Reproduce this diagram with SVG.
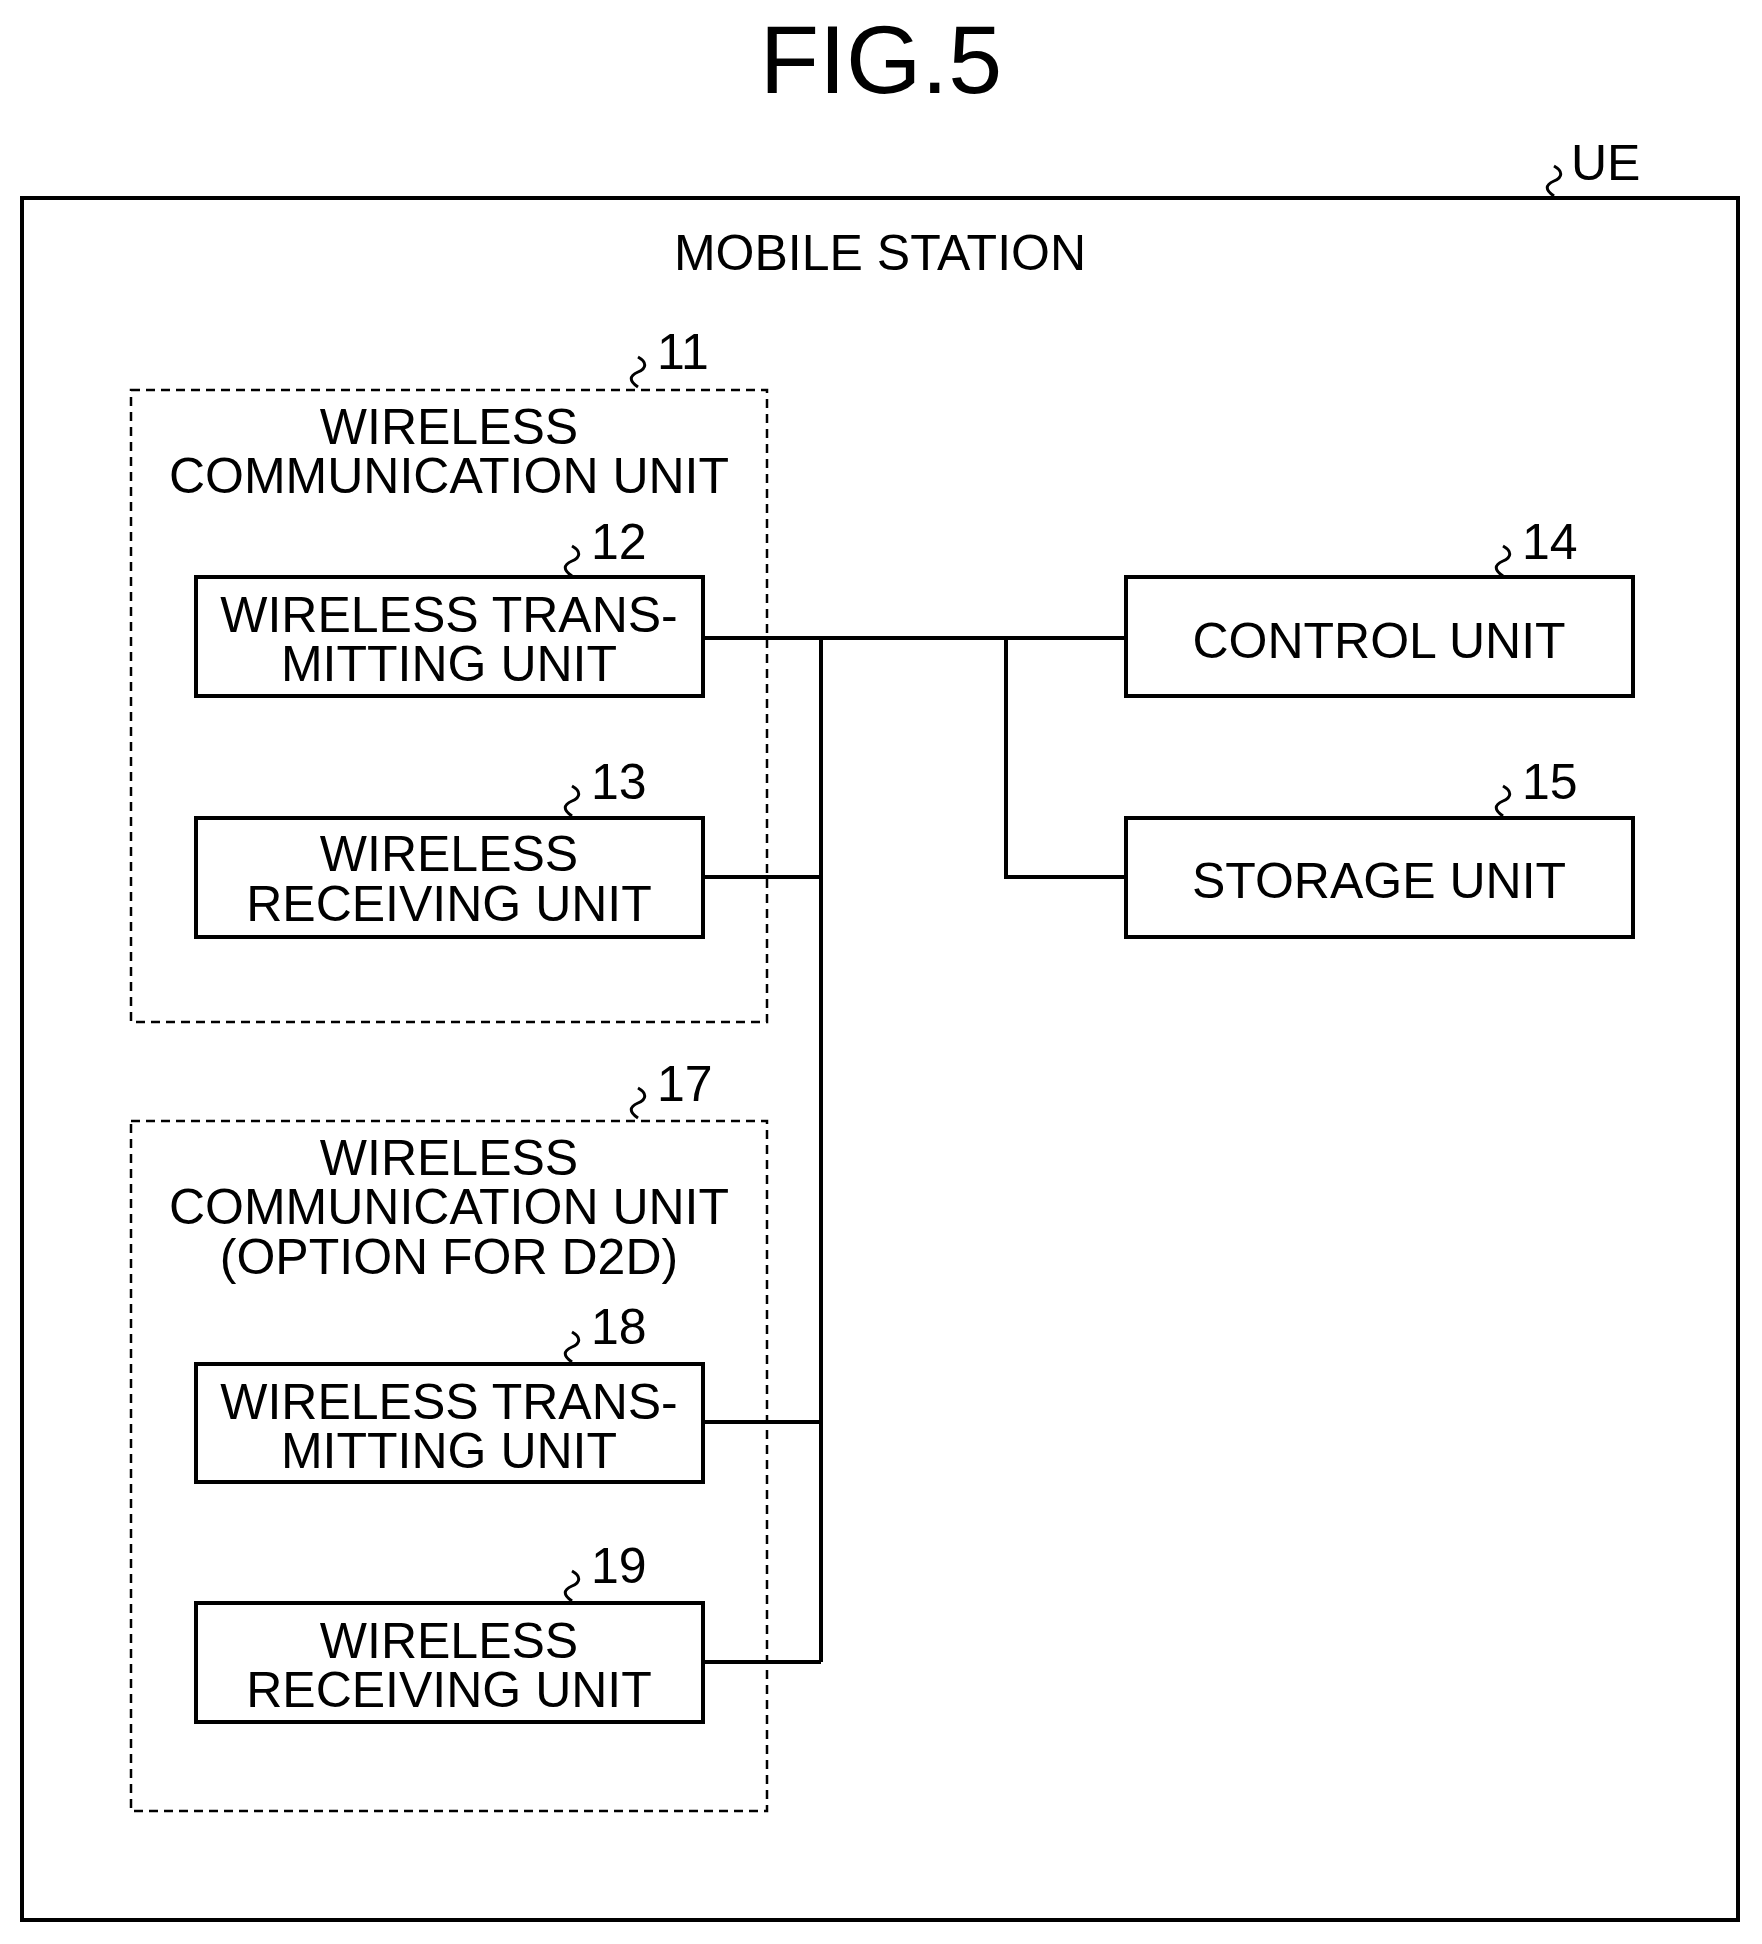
<svg xmlns="http://www.w3.org/2000/svg" xmlns:xlink="http://www.w3.org/1999/xlink" width="1762" height="1944" viewBox="0 0 1762 1944">
<style>
text{font-family:"Liberation Sans",Arial,sans-serif;font-size:50px;fill:#000}
.c{text-anchor:middle}
.box{fill:#fff;stroke:#000;stroke-width:4}
.dash{fill:none;stroke:#000;stroke-width:2.5;stroke-dasharray:9,6}
.ln{fill:none;stroke:#000;stroke-width:4}
.sq{fill:none;stroke:#000;stroke-width:3}
</style>
<defs><path id="sq" class="sq" d="M0,0 c-9,-6 -9,-11 0,-15 c9,-4 9,-10 0,-15"/></defs>
<rect width="1762" height="1944" fill="#fff"/>
<text class="c" x="881" y="93" style="font-size:97px">FIG.5</text>
<g id="ue">
<rect x="22" y="198" width="1716" height="1722" class="box"/>
<use xlink:href="#sq" x="1554" y="196"/>
<text x="1571" y="180">UE</text>
<text class="c" x="880" y="270">MOBILE STATION</text>
</g>
<g id="conn">
<path class="ln" d="M703,638 H1126 M821,638 V1662 M703,877 H821 M703,1422 H821 M703,1662 H821 M1006,638 V877 H1126"/>
</g>
<g id="n11">
<rect x="131" y="390" width="636" height="632" class="dash"/>
<use xlink:href="#sq" x="638" y="387"/>
<text x="657" y="369">11</text>
<text class="c" x="449" y="444">WIRELESS</text>
<text class="c" x="449" y="493">COMMUNICATION UNIT</text>
</g>
<g id="n12">
<rect x="196" y="577" width="507" height="119" class="box"/>
<use xlink:href="#sq" x="572" y="576"/>
<text x="591" y="559">12</text>
<text class="c" x="449" y="632">WIRELESS TRANS-</text>
<text class="c" x="449" y="681">MITTING UNIT</text>
</g>
<g id="n13">
<rect x="196" y="818" width="507" height="119" class="box"/>
<use xlink:href="#sq" x="572" y="816"/>
<text x="591" y="799">13</text>
<text class="c" x="449" y="871">WIRELESS</text>
<text class="c" x="449" y="921">RECEIVING UNIT</text>
</g>
<g id="n14">
<rect x="1126" y="577" width="507" height="119" class="box"/>
<use xlink:href="#sq" x="1503" y="576"/>
<text x="1522" y="559">14</text>
<text class="c" x="1379" y="658">CONTROL UNIT</text>
</g>
<g id="n15">
<rect x="1126" y="818" width="507" height="119" class="box"/>
<use xlink:href="#sq" x="1503" y="816"/>
<text x="1522" y="799">15</text>
<text class="c" x="1379" y="898">STORAGE UNIT</text>
</g>
<g id="n17">
<rect x="131" y="1121" width="636" height="690" class="dash"/>
<use xlink:href="#sq" x="638" y="1118"/>
<text x="657" y="1101">17</text>
<text class="c" x="449" y="1175">WIRELESS</text>
<text class="c" x="449" y="1224">COMMUNICATION UNIT</text>
<text class="c" x="449" y="1274">(OPTION FOR D2D)</text>
</g>
<g id="n18">
<rect x="196" y="1364" width="507" height="118" class="box"/>
<use xlink:href="#sq" x="572" y="1362"/>
<text x="591" y="1344">18</text>
<text class="c" x="449" y="1419">WIRELESS TRANS-</text>
<text class="c" x="449" y="1468">MITTING UNIT</text>
</g>
<g id="n19">
<rect x="196" y="1603" width="507" height="119" class="box"/>
<use xlink:href="#sq" x="572" y="1601"/>
<text x="591" y="1583">19</text>
<text class="c" x="449" y="1658">WIRELESS</text>
<text class="c" x="449" y="1707">RECEIVING UNIT</text>
</g>
</svg>
